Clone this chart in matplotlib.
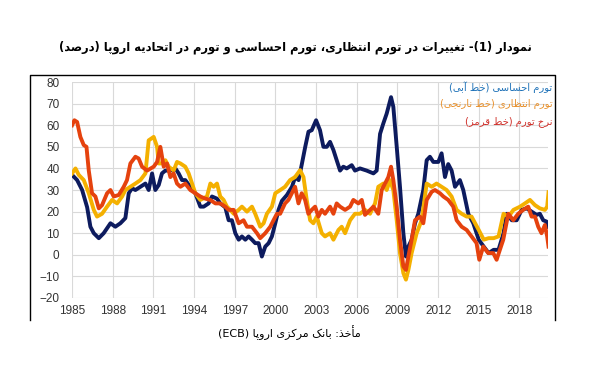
import re
import matplotlib
matplotlib.use("Agg")
import matplotlib.pyplot as plt
from matplotlib.lines import Line2D

# perceived inflation (blue line)
perc_years = [1985.0, 1985.37, 1985.74, 1986.11, 1986.35, 1986.6, 1986.97, 1987.33, 1987.83, 1988.19,
              1988.56, 1988.93, 1989.18, 1989.42, 1989.67, 1990.04, 1990.41, 1990.65, 1990.9, 1991.14,
              1991.39, 1991.63, 1991.88, 1992.25, 1992.62, 1992.86, 1993.11, 1993.35, 1993.72, 1994.09,
              1994.46, 1994.71, 1995.07, 1995.32, 1995.69, 1995.93, 1996.3, 1996.55, 1996.79, 1997.04,
              1997.29, 1997.53, 1997.78, 1998.02, 1998.27, 1998.51, 1998.76, 1999.0, 1999.25, 1999.5,
              1999.74, 1999.99, 2000.23, 2000.48, 2000.85, 2001.22, 2001.46, 2001.71, 2001.95, 2002.2,
              2002.44, 2002.68, 2003.0, 2003.29, 2003.54, 2003.79, 2004.03, 2004.28, 2004.52, 2004.77,
              2005.01, 2005.26, 2005.63, 2005.87, 2006.24, 2006.73, 2007.23, 2007.47, 2007.72, 2007.96,
              2008.21, 2008.53, 2008.7, 2008.95, 2009.19, 2009.44, 2009.63, 2009.81, 2010.05, 2010.3,
              2010.54, 2010.91, 2011.16, 2011.4, 2011.65, 2012.02, 2012.26, 2012.51, 2012.75, 2013.0,
              2013.25, 2013.61, 2013.86, 2014.23, 2014.6, 2015.0, 2015.37, 2015.73, 2016.1, 2016.46,
              2016.83, 2017.07, 2017.44, 2017.8, 2018.17, 2018.54, 2018.9, 2019.27, 2019.51, 2019.76,
              2020.0, 2020.12]
perc_vals = [37, 34.6, 30, 22, 13, 10, 7.7, 10, 14.6, 13,
             14.6, 17, 28.5, 30.8, 30, 31.5, 33, 30, 37.7, 30,
             32.3, 37.7, 39, 39, 40, 37.7, 34.6, 34.6, 31.5, 28.5,
             22.3, 22.3, 23.8, 27, 26, 23.8, 22, 16, 16, 10,
             7, 8.5, 7, 8.5, 7, 5.4, 5.4, -0.8, 3.8, 5.4,
             8.5, 14.6, 20.8, 25, 27.7, 31.5, 36, 34.6, 42, 50,
             57, 57.7, 62.3, 57.7, 50, 50, 52.3, 48.5, 43.8, 39,
             40.8, 40, 41.5, 39, 40, 39, 37.7, 39, 56, 60.8,
             65.4, 73, 68.5, 50, 31.5, 10, -0.8, 3.8, 7, 14.6,
             19, 30, 43.8, 45.4, 43, 43, 47, 36, 42, 39,
             31.5, 34.6, 30, 19, 14.6, 7, 3.8, 0.8, 2.3, 2.3,
             10, 19, 16, 16, 20.8, 21.5, 20, 18.5, 19, 16,
             15.4, 13]

# expected inflation (orange line)
exp_years = [1985.0, 1985.25, 1985.49, 1985.86, 1986.23, 1986.6, 1986.84, 1987.21, 1987.58, 1987.95,
             1988.32, 1988.69, 1988.93, 1989.3, 1989.67, 1990.04, 1990.41, 1990.65, 1991.02, 1991.27,
             1991.39, 1991.63, 1991.88, 1992.13, 1992.49, 1992.74, 1992.99, 1993.35, 1993.6, 1993.85,
             1994.09, 1994.46, 1994.95, 1995.2, 1995.44, 1995.69, 1995.93, 1996.18, 1996.42, 1996.67,
             1996.92, 1997.29, 1997.53, 1997.9, 1998.27, 1998.51, 1998.88, 1999.13, 1999.37, 1999.74,
             1999.99, 2000.36, 2000.71, 2001.08, 2001.45, 2001.82, 2002.07, 2002.31, 2002.56, 2002.8,
             2003.05, 2003.42, 2003.66, 2004.03, 2004.28, 2004.65, 2004.89, 2005.14, 2005.51, 2005.87,
             2006.24, 2006.61, 2006.98, 2007.35, 2007.59, 2007.96, 2008.21, 2008.45, 2008.7, 2008.95,
             2009.19, 2009.44, 2009.63, 2009.81, 2010.05, 2010.42, 2010.79, 2011.16, 2011.53, 2011.89,
             2012.26, 2012.63, 2013.0, 2013.37, 2013.74, 2014.11, 2014.47, 2015.0, 2015.37, 2015.73,
             2016.1, 2016.46, 2016.83, 2017.2, 2017.56, 2018.05, 2018.41, 2018.78, 2019.15, 2019.51,
             2019.88, 2020.05, 2020.15]
exp_vals = [37.7, 40, 37, 34.6, 28.5, 20.8, 17.7, 19, 22.3, 25.4,
            23.8, 27, 30, 31.5, 33, 34.6, 37.7, 53, 54.6, 50,
            42.3, 42.3, 43.8, 40.8, 39, 43, 42.3, 40.8, 37.7, 33,
            28.5, 25.4, 27, 33, 31.5, 33, 27, 25.4, 22.3, 20.8,
            19, 20.8, 22.3, 20, 22.3, 19, 13, 14.6, 19, 22.3,
            28.5, 30, 31.5, 34.6, 36, 39.2, 36, 25.4, 16, 14.6,
            17.7, 10, 8.5, 10, 7, 11.5, 13, 10, 16, 19,
            19, 20.8, 19, 23.8, 31.5, 33, 30, 34.6, 30, 16,
            0.8, -8.5, -11.5, -7, 0.8, 10, 16, 33, 31.5, 33,
            31.5, 30, 27, 20.8, 19, 17.7, 17.7, 11.5, 7, 7.7,
            7.7, 8.5, 19, 17.7, 20.8, 22.3, 23.8, 25.4, 23, 21.5,
            20.8, 22.3, 29]

# inflation rate (red line)
infl_years = [1985.0, 1985.17, 1985.37, 1985.61, 1985.86, 1986.06, 1986.23, 1986.47, 1986.72, 1986.97,
              1987.21, 1987.58, 1987.83, 1988.07, 1988.44, 1988.81, 1989.05, 1989.3, 1989.67, 1989.91,
              1990.16, 1990.53, 1991.02, 1991.27, 1991.51, 1991.76, 1992.0, 1992.25, 1992.49, 1992.74,
              1992.99, 1993.35, 1993.72, 1994.09, 1994.46, 1994.83, 1995.2, 1995.57, 1995.93, 1996.3,
              1996.55, 1996.92, 1997.29, 1997.65, 1997.9, 1998.27, 1998.64, 1998.88, 1999.25, 1999.62,
              1999.86, 2000.11, 2000.35, 2000.71, 2000.96, 2001.21, 2001.45, 2001.7, 2001.94, 2002.19,
              2002.43, 2002.68, 2002.93, 2003.17, 2003.42, 2003.66, 2004.03, 2004.28, 2004.52, 2004.77,
              2005.14, 2005.51, 2005.75, 2006.12, 2006.37, 2006.61, 2006.86, 2007.23, 2007.59, 2007.84,
              2008.09, 2008.33, 2008.53, 2008.7, 2008.95, 2009.19, 2009.44, 2009.63, 2009.81, 2010.05,
              2010.3, 2010.67, 2010.91, 2011.16, 2011.53, 2011.77, 2012.14, 2012.39, 2012.75, 2013.12,
              2013.37, 2013.74, 2014.11, 2014.47, 2014.84, 2015.04, 2015.33, 2015.7, 2016.07, 2016.32,
              2016.56, 2016.81, 2017.18, 2017.55, 2017.91, 2018.28, 2018.65, 2018.9, 2019.15, 2019.39,
              2019.63, 2019.88, 2020.05, 2020.15]
infl_vals = [60, 62.3, 61.5, 54.6, 50.8, 50, 39, 28.5, 27, 21.5,
             23, 28.5, 30, 27, 27.7, 31.5, 34.6, 42.3, 45.4, 44.6,
             40.8, 39, 40.8, 43, 50, 40.8, 42.3, 36, 37.7, 33,
             31.5, 33, 30, 28.5, 27, 26, 25.4, 23.8, 23.8, 22.3,
             20.8, 20.8, 14.6, 16, 13, 13, 10, 7.7, 10, 13,
             16, 19, 19, 23.8, 25.4, 28.5, 31.5, 23.8, 28.5, 25.4,
             19, 20.8, 22.3, 17.7, 20.8, 19, 22.3, 19, 23.8, 22.3,
             20.8, 22.3, 25.4, 23.8, 25.4, 18.5, 20, 22.3, 19, 30,
             33, 36, 40.8, 34.6, 22.3, 7, -5.4, -7, -0.8, 7,
             16, 17.7, 14.6, 25.4, 29.2, 30, 28.5, 27, 25.4, 22.3,
             16, 13, 11.5, 8.5, 5.4, -2.3, 3.8, 0.8, 0.8, -2.3,
             2.3, 7, 19, 16, 19, 20.8, 22.3, 17.7, 17.7, 13,
             10, 13.8, 8.5, 3.8]

year_ticks = list(range(1985, 2019, 3))
value_ticks = list(range(-20, 81, 10))

title = "نمودار (1)- تغییرات در تورم انتظاری، تورم احساسی و تورم در اتحادیه اروپا (درصد)"
source = "مأخذ: بانک مرکزی اروپا (ECB)"
legend_lines = ["تورم احساسی (خط آبی)", "تورم انتظاری (خط نارنجی)", "نرخ تورم (خط قرمز)"]

# presentation forms: isolated, final, initial, medial
FORMS = {
    'ا': 'ﺍﺎ', 'آ': 'ﺁﺂ', 'أ': 'ﺃﺄ', 'د': 'ﺩﺪ', 'ذ': 'ﺫﺬ', 'ر': 'ﺭﺮ',
    'ز': 'ﺯﺰ', 'ژ': 'ﮊﮋ', 'و': 'ﻭﻮ',
    'ب': 'ﺏﺐﺑﺒ', 'پ': 'ﭖﭗﭘﭙ', 'ت': 'ﺕﺖﺗﺘ', 'ث': 'ﺙﺚﺛﺜ', 'ج': 'ﺝﺞﺟﺠ',
    'چ': 'ﭺﭻﭼﭽ', 'ح': 'ﺡﺢﺣﺤ', 'خ': 'ﺥﺦﺧﺨ', 'س': 'ﺱﺲﺳﺴ', 'ش': 'ﺵﺶﺷﺸ',
    'ص': 'ﺹﺺﺻﺼ', 'ض': 'ﺽﺾﺿﻀ', 'ط': 'ﻁﻂﻃﻄ', 'ظ': 'ﻅﻆﻇﻈ', 'ع': 'ﻉﻊﻋﻌ',
    'غ': 'ﻍﻎﻏﻐ', 'ف': 'ﻑﻒﻓﻔ', 'ق': 'ﻕﻖﻗﻘ', 'ک': 'ﮎﮏﮐﮑ', 'گ': 'ﮒﮓﮔﮕ',
    'ل': 'ﻝﻞﻟﻠ', 'م': 'ﻡﻢﻣﻤ', 'ن': 'ﻥﻦﻧﻨ', 'ه': 'ﻩﻪﻫﻬ', 'ی': 'ﯼﯽﯾﯿ',
    'ي': 'ﻱﻲﻳﻴ',
}


def rtl(text):
    # join letters, then put the line in visual (left-to-right) order
    out = []
    for i, ch in enumerate(text):
        f = FORMS.get(ch)
        if f is None:
            out.append(ch)
            continue
        prev = text[i - 1] if i > 0 else ''
        nxt = text[i + 1] if i + 1 < len(text) else ''
        jp = prev in FORMS and len(FORMS[prev]) == 4
        jn = nxt in FORMS and len(f) == 4
        out.append(f[3] if jp and jn else f[1] if jp else f[2] if jn else f[0])
    runs = re.findall(r'[A-Za-z0-9]+|[^A-Za-z0-9]', ''.join(out))
    mirror = {'(': ')', ')': '('}
    return ''.join(mirror.get(r, r) for r in reversed(runs))


fig = plt.figure(figsize=(5.91, 3.87), dpi=100)
ax = fig.add_axes([0.122, 0.230, 0.805, 0.558])

ax.plot(perc_years, perc_vals, color='#0d1b5e', lw=2.8, zorder=3)
ax.plot(exp_years, exp_vals, color='#f4b000', lw=2.8, zorder=4)
ax.plot(infl_years, infl_vals, color='#e5420e', lw=2.8, zorder=5)

ax.set_xlim(1985, 2020.1)
ax.set_ylim(-20, 80)
ax.set_xticks(year_ticks)
ax.set_yticks(value_ticks)
ax.grid(True, color='#d9d9d9', lw=0.8)
ax.set_axisbelow(True)
for s in ax.spines.values():
    s.set_visible(False)
ax.tick_params(length=0, labelsize=8.5, colors='#333333', pad=5)
ax.tick_params(axis='y', pad=9)
for lab in ax.get_xticklabels() + ax.get_yticklabels():
    lab.set_family('Liberation Sans')

leg_colors = ['#1f72b8', '#e8912d', '#d0302a']
for k, (txt, c) in enumerate(zip(legend_lines, leg_colors)):
    fig.text(0.935, 0.775 - k * 0.045, rtl(txt), color=c, fontsize=7.2,
             ha='right', va='center')

fig.text(0.5, 0.879, rtl(title), ha='center', va='center', fontsize=8.3,
         fontweight='bold')
fig.text(0.49, 0.14, rtl(source), ha='center', va='center', fontsize=8)

# frame round the chart (open at the bottom)
x0, x1, y0, y1 = 0.051, 0.939, 0.173, 0.806
fig.add_artist(Line2D([x0, x0, x1, x1], [y0, y1, y1, y0], color='black', lw=1.0,
                      transform=fig.transFigure))

fig.savefig('out.png', dpi=100)
